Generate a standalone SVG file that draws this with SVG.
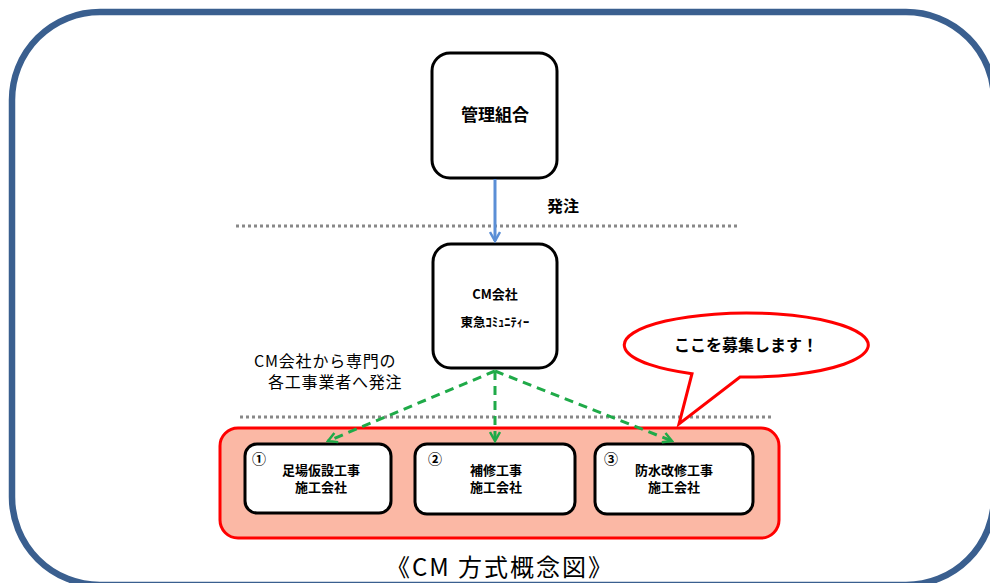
<svg xmlns="http://www.w3.org/2000/svg" width="990" height="583" viewBox="0 0 990 583">
<style>
text{font-family:"Noto Sans CJK JP","Noto Sans",sans-serif;fill:#000}
.b{font-weight:bold}
.node{fill:#fff;stroke:#000;stroke-width:3}
.dot{stroke:#888;stroke-width:3;stroke-dasharray:3,3;fill:none}
.g{stroke:#1faa48;stroke-width:3;stroke-dasharray:9,6;fill:none}
.t{font-size:13px;font-weight:bold;text-anchor:middle}
.n{font-size:14px;font-weight:bold}
</style>
<defs>
<marker id="ab" viewBox="0 0 12 12" refX="10" refY="6" markerWidth="12" markerHeight="12" markerUnits="userSpaceOnUse" orient="auto"><path d="M1,1 L10,6 L1,11" fill="none" stroke="#5b8fd6" stroke-width="2.5"/></marker>
<marker id="ag" viewBox="0 0 12 12" refX="10" refY="6" markerWidth="12" markerHeight="12" markerUnits="userSpaceOnUse" orient="auto"><path d="M1,1 L10,6 L1,11" fill="none" stroke="#1faa48" stroke-width="2.5"/></marker>
</defs>
<rect x="0" y="0" width="990" height="583" fill="#fff"/>
<rect id="frame" x="12" y="12" width="982" height="573" rx="88" fill="none" stroke="#3a5f8f" stroke-width="6.5"/>
<line class="dot" x1="236" y1="226" x2="738" y2="226"/>
<line class="dot" x1="240" y1="417" x2="773" y2="417"/>
<g id="group-box">
<rect x="220" y="428" width="559" height="110" rx="18" fill="#fbb8a5" stroke="#f00" stroke-width="3"/>
</g>
<g id="kanri">
<rect class="node" x="432" y="53" width="125" height="125" rx="18"/>
<text class="b" x="495" y="121" font-size="17" text-anchor="middle">管理組合</text>
</g>
<g id="cm">
<rect class="node" x="433" y="244" width="124" height="124" rx="18"/>
<text class="b" x="495" y="299" font-size="13" text-anchor="middle">CM会社</text>
<text class="b" x="495" y="327" font-size="12.5" text-anchor="middle">東急ｺﾐｭﾆﾃｨｰ</text>
</g>
<g id="c1">
<rect class="node" x="245" y="444" width="146" height="69" rx="12"/>
<text class="n" x="252" y="464">①</text>
<text class="t" x="321" y="475">足場仮設工事</text>
<text class="t" x="321" y="492">施工会社</text>
</g>
<g id="c2">
<rect class="node" x="415" y="444" width="160" height="70" rx="12"/>
<text class="n" x="428" y="464">②</text>
<text class="t" x="496" y="475">補修工事</text>
<text class="t" x="496" y="492">施工会社</text>
</g>
<g id="c3">
<rect class="node" x="595" y="444" width="158" height="70" rx="12"/>
<text class="n" x="604" y="464">③</text>
<text class="t" x="674" y="475">防水改修工事</text>
<text class="t" x="674" y="492">施工会社</text>
</g>
<g id="connectors">
<line x1="495" y1="179" x2="495" y2="241" stroke="#5b8fd6" stroke-width="3" marker-end="url(#ab)"/>
<line class="g" x1="495" y1="371" x2="328" y2="441" marker-end="url(#ag)"/>
<line class="g" x1="495" y1="371" x2="495" y2="441" marker-end="url(#ag)"/>
<line class="g" x1="495" y1="371" x2="672" y2="441" marker-end="url(#ag)"/>
</g>
<text class="b" x="547" y="212" font-size="16">発注</text>
<text x="254" y="367" font-size="16" letter-spacing="0.8">CM会社から専門の</text>
<text x="268" y="388" font-size="16" letter-spacing="0.8">各工事業者へ発注</text>
<g id="callout">
<path d="M692,373.7 A122,32 0 1 1 740,377 L679,424 Z" fill="#fff" stroke="#f00" stroke-width="3" stroke-linejoin="miter"/>
<text class="b" x="746" y="351" font-size="16" text-anchor="middle">ここを募集します！</text>
</g>
<text x="500" y="576" font-size="24" letter-spacing="2" text-anchor="middle" fill="#222">《CM 方式概念図》</text>
</svg>
